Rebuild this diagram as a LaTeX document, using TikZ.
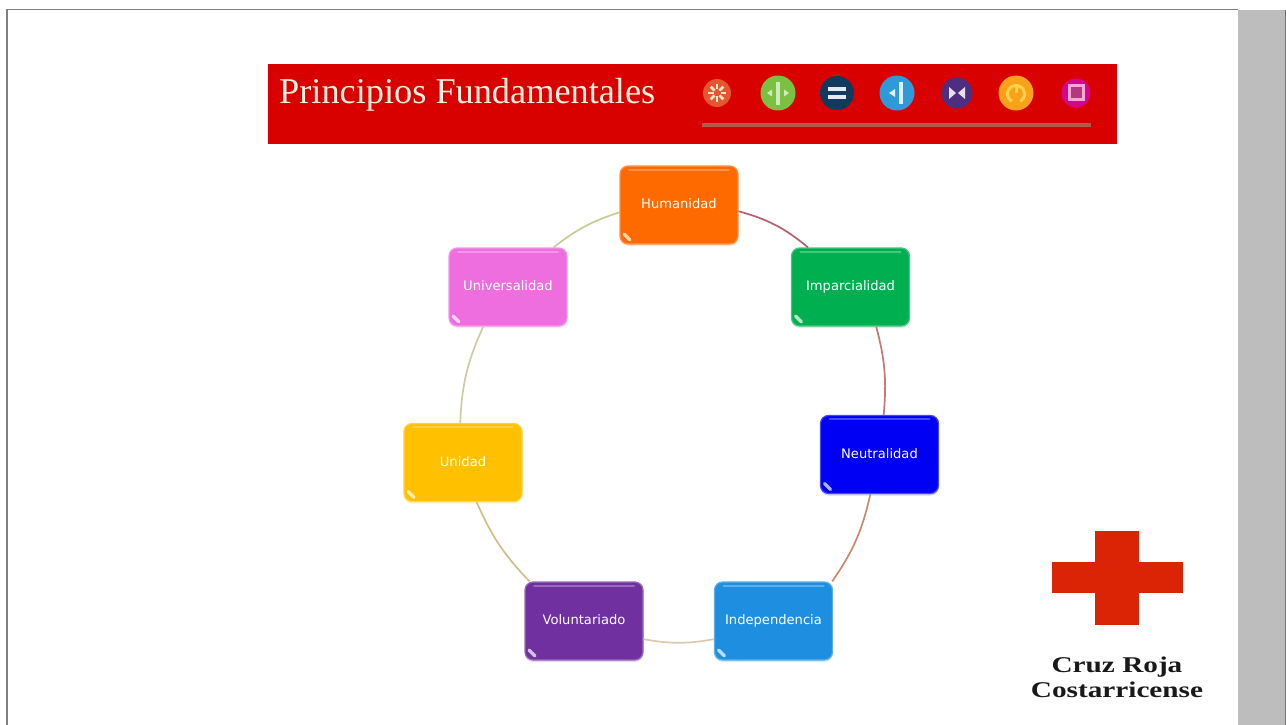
\documentclass[tikz,border=0pt]{standalone}
\usepackage{fontspec}
\setmainfont{Liberation Serif}
\newfontfamily\boxfont{DejaVu Sans}
\newfontfamily\logofont[FakeStretch=1.3]{Liberation Serif}
\usetikzlibrary{shadows}
\definecolor{cHum}{HTML}{FF6A00}
\definecolor{cImp}{HTML}{00B050}
\definecolor{cNeu}{HTML}{0000F5}
\definecolor{cInd}{HTML}{1E8FE0}
\definecolor{cVol}{HTML}{7030A0}
\definecolor{cUni}{HTML}{FFC000}
\definecolor{cUnv}{HTML}{EE6EE0}
\definecolor{banner}{HTML}{D90000}
\definecolor{ic1}{HTML}{E4572E}
\definecolor{ic2}{HTML}{7AC143}
\definecolor{ic3}{HTML}{123A5E}
\definecolor{ic4}{HTML}{2E9AD8}
\definecolor{ic5}{HTML}{4E2E80}
\definecolor{ic6}{HTML}{F9A11B}
\definecolor{ic7}{HTML}{D4078C}
\definecolor{crossred}{HTML}{DB2405}
\definecolor{barcol}{HTML}{B05A50}
\newcommand{\boxlabel}[1]{\raisebox{2pt}{#1}}
\tikzset{
 x=1pt,y=-1pt,
 pbox/.style={rounded corners=8pt,minimum width=118pt,minimum height=78pt,inner sep=0pt,
   text=white,font=\boxfont\fontsize{13.1}{15}\selectfont,fill=#1,draw=#1!72!white,line width=1.2pt,
   drop shadow={shadow xshift=0pt,shadow yshift=-2pt,opacity=.3,fill=#1!60!white},
   path picture={
     \draw[sharp corners,line cap=round,line width=2pt,color=#1!72!white] ([xshift=9pt,yshift=-3.5pt]path picture bounding box.north west) -- ([xshift=-9pt,yshift=-3.5pt]path picture bounding box.north east);
     \draw[sharp corners,line cap=round,line width=3.4pt,color=white!70!#1] ([xshift=4pt,yshift=10pt]path picture bounding box.south west) -- ([xshift=10pt,yshift=4pt]path picture bounding box.south west);
   }},
 ring/.style={line width=1.7pt,#1},
 icon/.style={circle,inner sep=0pt,minimum size=#1},
}
\begin{document}
\begin{tikzpicture}
\useasboundingbox (0,0) rectangle (1286,725);
\fill[white] (0,0) rectangle (1286,725);
% frame and side panel
\fill[black!50] (6,9) rectangle (1238,10.5);
\fill[black!50] (6,9) rectangle (7.5,725);
\fill[white!74!black] (1238,10) rectangle (1286,725);
\fill[black!55] (1285,10) rectangle (1286,725);
% banner
\node[fill=banner,minimum width=849pt,minimum height=79.5pt,inner sep=0pt,anchor=north west] (banner) at (268,64) {};
\node[text=white!88!orange,font=\fontsize{36.3}{40}\selectfont,anchor=base west,inner sep=0pt] (title) at (279,103) {Principios Fundamentales};
\coordinate (barL) at (702,124.5);
\coordinate (barR) at (1091,124.5);
\draw[line width=4pt,color=barcol] (barL) -- (barR);
% icons
\node[icon=28pt,fill=ic1] (i1) at (717,93) {};
\foreach \a in {0,45,...,315}{\draw[line width=2.8pt,color=white!80!orange] (i1.center) ++(\a:3.5) -- ++(\a:5.5);}
\node[icon=35pt,fill=ic2] (i2) at (778,93) {};
\fill[white!65!ic2] (776,82) rectangle (779.5,105);
\fill[white!65!ic2] (767,93) -- (772,89.5) -- (772,96.5) -- cycle;
\fill[white!65!ic2] (789,93) -- (784,89.5) -- (784,96.5) -- cycle;
\node[icon=34pt,fill=ic3] (i3) at (837,93) {};
\fill[white!90!ic3] (828,87.5) rectangle (846,91.5);
\fill[white!90!ic3] (828,95) rectangle (846,99);
\node[icon=35pt,fill=ic4] (i4) at (897,93) {};
\fill[white!85!ic4] (899,82) rectangle (902.5,104);
\fill[white!85!ic4] (889,93) -- (895,89) -- (895,97) -- cycle;
\node[icon=31pt,fill=ic5] (i5) at (957,93) {};
\fill[white!85!ic5] (949,87) -- (956,93) -- (949,99) -- cycle;
\fill[white!85!ic5] (965,87) -- (958,93) -- (965,99) -- cycle;
\node[icon=35pt,fill=ic6] (i6) at (1016,93) {};
\draw[line width=3pt,color=yellow!55!orange!70!white] (1016,94) ++(60:8.5) arc (60:-240:8.5);
\fill[yellow!55!orange!70!white] (1014.5,84) rectangle (1017.5,93);
\node[icon=29pt,fill=ic7] (i7) at (1076,93) {};
\draw[line width=3pt,color=white!65!magenta,fill=magenta!70!black] (1069,86) rectangle (1083,100);
% principle boxes
\node[pbox=cHum] (hum) at (679,205) {\boxlabel{Humanidad}};
\node[pbox=cImp] (imp) at (850.5,287) {\boxlabel{Imparcialidad}};
\node[pbox=cNeu] (neu) at (879.5,454.5) {\boxlabel{Neutralidad}};
\node[pbox=cInd] (ind) at (773.5,621) {\boxlabel{Independencia}};
\node[pbox=cVol] (vol) at (584,621) {\boxlabel{Voluntariado}};
\node[pbox=cUni] (uni) at (463,462.5) {\boxlabel{Unidad}};
\node[pbox=cUnv] (unv) at (508,287) {\boxlabel{Universalidad}};
% ring connectors
\definecolor{r1}{HTML}{B5606E}
\definecolor{r2}{HTML}{BE7A7A}
\definecolor{r3}{HTML}{C88A6E}
\definecolor{r4}{HTML}{DCC8AE}
\definecolor{r5}{HTML}{CFC08A}
\definecolor{r6}{HTML}{CFCBA4}
\definecolor{r7}{HTML}{C9CB94}
\draw[ring=r1] (hum.-6.8) to[bend left=12] (imp.137.5);
\draw[ring=r2] (imp.-57.9) to[bend left=10] (neu.84.9);
\draw[ring=r3] (neu.-103.7) to[bend left=11] (ind.34.1);
\draw[ring=r4] (ind.197) to[bend left=10] (vol.-17);
\draw[ring=r5] (vol.144.2) to[bend left=10] (uni.-71.6);
\draw[ring=r6] (uni.94.4) to[bend left=11] (unv.-122.7);
\draw[ring=r7] (unv.41.6) to[bend left=10] (hum.187.7);
% logo
\fill[crossred] (1095,531) rectangle (1139,625);
\fill[crossred] (1052,562) rectangle (1183,593);
\node[font=\logofont\bfseries\fontsize{22.5}{25}\selectfont,align=center,inner sep=0pt,text=black!90] (logo) at (1117,677.5) {Cruz Roja\\Costarricense};
\end{tikzpicture}
\end{document}
